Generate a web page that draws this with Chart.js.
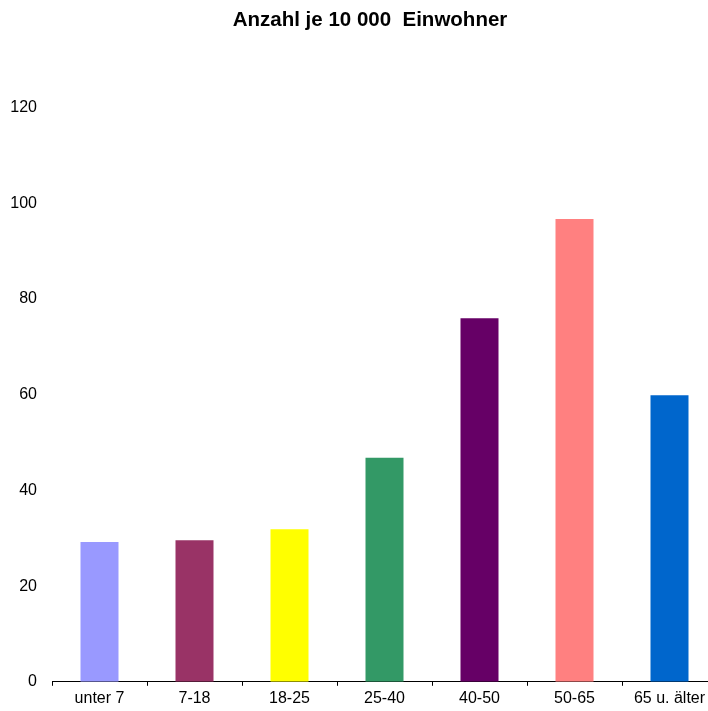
<!DOCTYPE html>
<html>
<head>
<meta charset="utf-8">
<script src="https://cdn.jsdelivr.net/npm/chart.js@4/dist/chart.umd.min.js"></script>
<style>
  html, body { margin: 0; padding: 0; background: #fff; overflow: hidden; }
  #wrap { width: 740px; height: 711px; }
</style>
</head>
<body>
<div id="wrap"><canvas id="chart" width="740" height="711"></canvas></div>
<script>
// Age groups and cases per 10 000 inhabitants
const categories = ['unter 7', '7-18', '18-25', '25-40', '40-50', '50-65', '65 u. älter'];
const values = [29.2, 29.6, 31.9, 46.8, 76.0, 96.7, 59.9];
const barColors = ['#9999FF', '#993366', '#FFFF00', '#339966', '#660066', '#FF8080', '#0066CC'];
const yTicks = [0, 20, 40, 60, 80, 100, 120];

const font = 'Arial, "Liberation Sans", sans-serif';

// Title in the original sits a bit right of the canvas centre
const titleShift = {
  id: 'titleShift',
  afterLayout(chart) {
    const t = chart.titleBlock;
    if (!t) return;
    t.left = 23;
    t.right = chart.chartArea.right;
    t.width = t.right - t.left;
  }
};

new Chart(document.getElementById('chart'), {
  type: 'bar',
  data: {
    labels: categories,
    datasets: [{
      data: values,
      backgroundColor: barColors,
      borderWidth: 0,
      barPercentage: 0.4,
      categoryPercentage: 1
    }]
  },
  options: {
    responsive: false,
    animation: false,
    devicePixelRatio: 1,
    // plot runs past the right edge of the window, like the original
    layout: { padding: { left: 10, right: 23, top: 0, bottom: 0 } },
    plugins: {
      legend: { display: false },
      tooltip: { enabled: false },
      title: {
        display: true,
        text: 'Anzahl je 10 000  Einwohner',
        color: '#000',
        font: { family: font, size: 20.5, weight: 'bold' },
        padding: { top: 8, bottom: 75 }
      }
    },
    scales: {
      x: {
        grid: {
          display: true,
          drawOnChartArea: false,
          drawTicks: true,
          tickLength: 4,
          color: '#000',
          offset: true
        },
        border: { display: true, color: '#000', width: 1 },
        ticks: {
          color: '#000',
          font: { family: font, size: 16 },
          padding: 3,
          maxRotation: 0,
          autoSkip: false
        }
      },
      y: {
        min: yTicks[0],
        max: yTicks[yTicks.length - 1],
        grid: { display: false, drawTicks: false },
        border: { display: false },
        afterBuildTicks: (scale) => {
          scale.ticks = yTicks.map(v => ({ value: v }));
        },
        afterFit: (scale) => {
          scale.width = 42;
        },
        ticks: {
          color: '#000',
          font: { family: font, size: 16 },
          padding: 15
        }
      }
    }
  },
  plugins: [titleShift]
});
</script>
</body>
</html>
